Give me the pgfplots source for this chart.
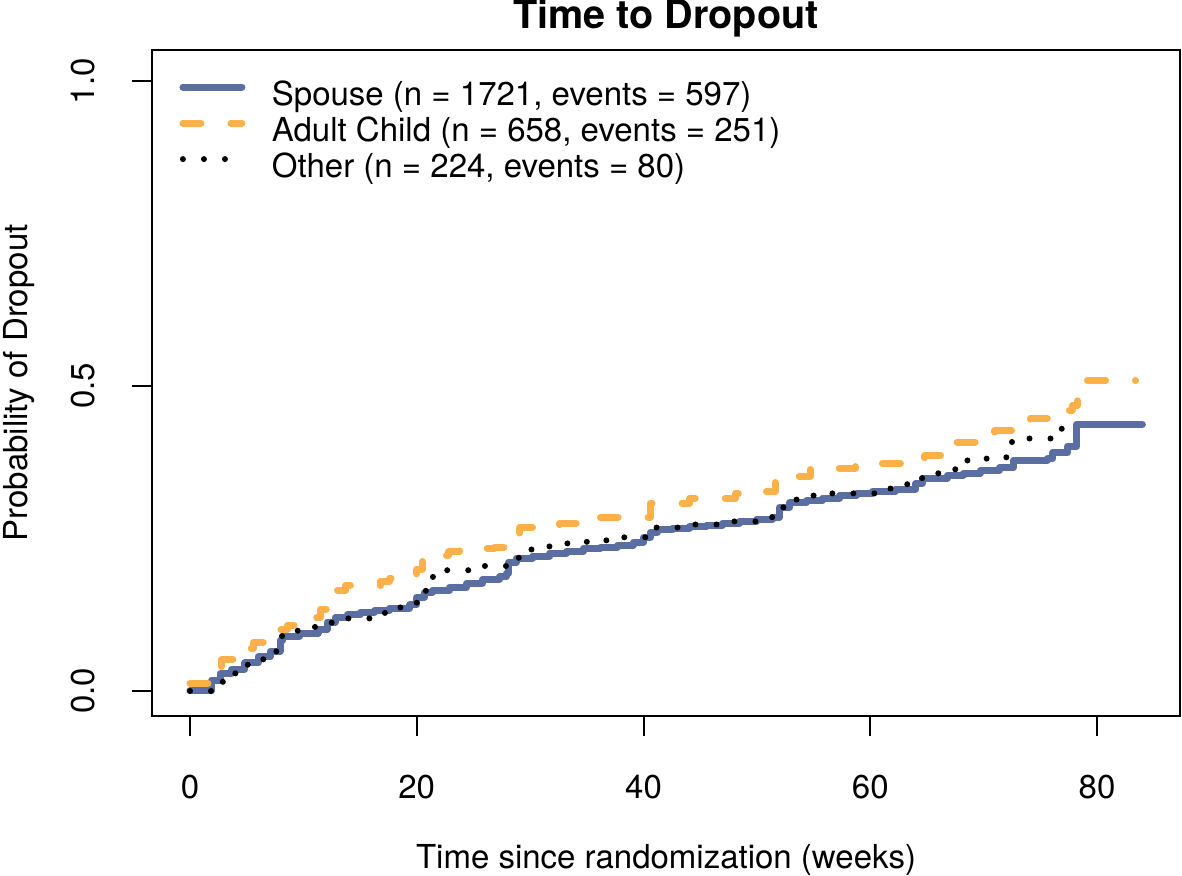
\documentclass[border=0pt]{standalone}
\usepackage{fontspec}
\setmainfont{TeX Gyre Heros}
\usepackage{pgfplots}
\pgfplotsset{compat=1.18}

\definecolor{spouse}{HTML}{5A6EA2}
\definecolor{child}{HTML}{FBB04A}

\begin{document}
\begin{tikzpicture}
\path[use as bounding box] (0,0) rectangle (591pt,438pt);
\begin{axis}[
    at={(76pt,80pt)}, anchor=south west,
    width=514pt, height=333pt, scale only axis,
    xmin=-3.35, xmax=87.32,
    ymin=-0.041, ymax=1.051,
    axis line style={line width=1pt},
    xtick={0,20,40,60,80},
    ytick={0,0.5,1},
    yticklabels={0.0,0.5,1.0},
    xtick pos=lower, ytick pos=left,
    tick align=outside,
    major tick length=10pt,
    tick style={line width=1pt, black},
    /pgf/number format/assume math mode=true,
    font=\fontsize{16.5}{19.8}\selectfont,
    ticklabel style={font=\fontsize{16.5}{19.8}\selectfont, inner sep=0pt},
    xticklabel style={anchor=base},
    xticklabel shift=31pt,
    yticklabel style={rotate=90, anchor=base},
    yticklabel shift=18.5pt,
    title={Time to Dropout},
    title style={at={([yshift=4.5pt]axis description cs:0.5,1)}, anchor=base,
        font=\fontsize{19.8}{24}\selectfont\bfseries, inner sep=0pt},
    xlabel={Time since randomization (weeks)},
    xlabel style={at={([yshift=-76.5pt]axis description cs:0.5,0)}, anchor=base, inner sep=0pt},
    ylabel={Probability of Dropout},
    ylabel style={at={([xshift=-62.5pt]axis description cs:0,0.5)}, anchor=base, inner sep=0pt},
    legend style={draw=none, fill=none, at={(axis cs:-0.93,1.0)}, anchor=north west,
        inner sep=0pt, outer sep=0pt, row sep=0pt,
        font=\fontsize{16.5}{19.8}\selectfont,
        nodes={inner sep=0pt, text height=12pt, text depth=6pt},
        /tikz/every odd column/.append style={column sep=13.25pt}},
    legend cell align=left,
    legend image code/.code={\draw[#1] (0pt,6pt) -- (29.5pt,6pt);},
]
% Spouse
\addplot[const plot, color=spouse, line width=3.5pt, line cap=round, line join=round] coordinates {
(0,0) (1.94,0.018) (2.65,0.028) (3.7,0.036) (4.85,0.046) (6.0,0.056) (7.06,0.065)
(7.94,0.083) (8.2,0.09) (9.7,0.095) (11.3,0.101) (12.1,0.113) (12.8,0.121)
(13.9,0.125) (15.0,0.129) (16.3,0.132) (17.6,0.136) (19.4,0.141) (20.0,0.154)
(20.7,0.162) (21.4,0.165) (22.9,0.17) (24.4,0.177) (25.8,0.183) (27.3,0.187)
(27.9,0.193) (28.1,0.211) (28.8,0.218) (30.25,0.221) (31.75,0.226) (33.25,0.229)
(34.7,0.234) (36.2,0.236) (37.7,0.239) (39.1,0.244) (40.0,0.252) (40.6,0.26)
(41.2,0.264) (42.6,0.267) (44.1,0.27) (45.6,0.272) (47.0,0.275) (48.5,0.278)
(50.0,0.281) (51.4,0.285) (52.0,0.301) (52.9,0.309) (54.4,0.312) (55.8,0.316)
(57.3,0.32) (58.8,0.324) (60.2,0.327) (62.2,0.331) (64.0,0.340) (64.6,0.349)
(66.8,0.354) (68.2,0.357) (69.7,0.362) (71.4,0.366) (72.6,0.378) (75.6,0.381)
(76.1,0.391) (77.4,0.401) (78.2,0.437) (84.0,0.437)
};
% Adult Child
\addplot[const plot, color=child, line width=3.5pt, line cap=round, line join=round,
    dash pattern=on 9pt off 15pt] coordinates {
(0,0.013) (2.4,0.04) (2.8,0.051) (5.0,0.07) (5.6,0.08) (7.9,0.10) (8.6,0.108)
(10.8,0.12) (11.5,0.134) (13.0,0.165) (13.7,0.173) (16.8,0.18) (17.6,0.185)
(20.0,0.20) (20.5,0.218) (22.1,0.222) (22.8,0.228) (23.8,0.234) (26.9,0.236)
(27.7,0.247) (29.1,0.268) (32.6,0.275) (36.2,0.285) (40.6,0.308) (44.1,0.316)
(48.1,0.324) (49.8,0.327) (51.6,0.342) (52.9,0.352) (54.7,0.363) (56.4,0.365)
(58.7,0.37) (60.4,0.373) (63.7,0.38) (64.8,0.386) (66.6,0.40) (67.5,0.408)
(69.7,0.422) (71.0,0.427) (73.0,0.44) (74.1,0.447) (76.3,0.46) (77.8,0.468)
(78.3,0.509) (83.4,0.509)
};
% Other
\addplot[const plot, color=black, line width=3pt, line cap=round,
    dash pattern=on 0pt off 10.5pt] coordinates {
(0,0) (2.2,0.015) (3.0,0.023) (4.0,0.043) (5.5,0.052) (7.0,0.065) (8.0,0.09)
(9.5,0.10) (11.0,0.105) (12.5,0.119) (16.5,0.128) (18.5,0.137) (20.0,0.16)
(20.8,0.187) (21.7,0.198) (25.0,0.205) (28.0,0.214) (29.0,0.232) (31.5,0.237)
(33.0,0.242) (35.0,0.247) (38.0,0.252) (40.5,0.268) (44.0,0.273) (46.5,0.278)
(50.5,0.285) (52.0,0.301) (53.5,0.314) (55.0,0.324) (60.5,0.332) (63.0,0.339)
(64.5,0.349) (66.0,0.363) (67.5,0.378) (69.5,0.381) (72.0,0.391) (72.5,0.414)
(76.5,0.43) (78.3,0.43)
};
\legend{Spouse (n = 1721{,} events = 597), Adult Child (n = 658{,} events = 251), Other (n = 224{,} events = 80)}
\end{axis}
\end{tikzpicture}
\end{document}
